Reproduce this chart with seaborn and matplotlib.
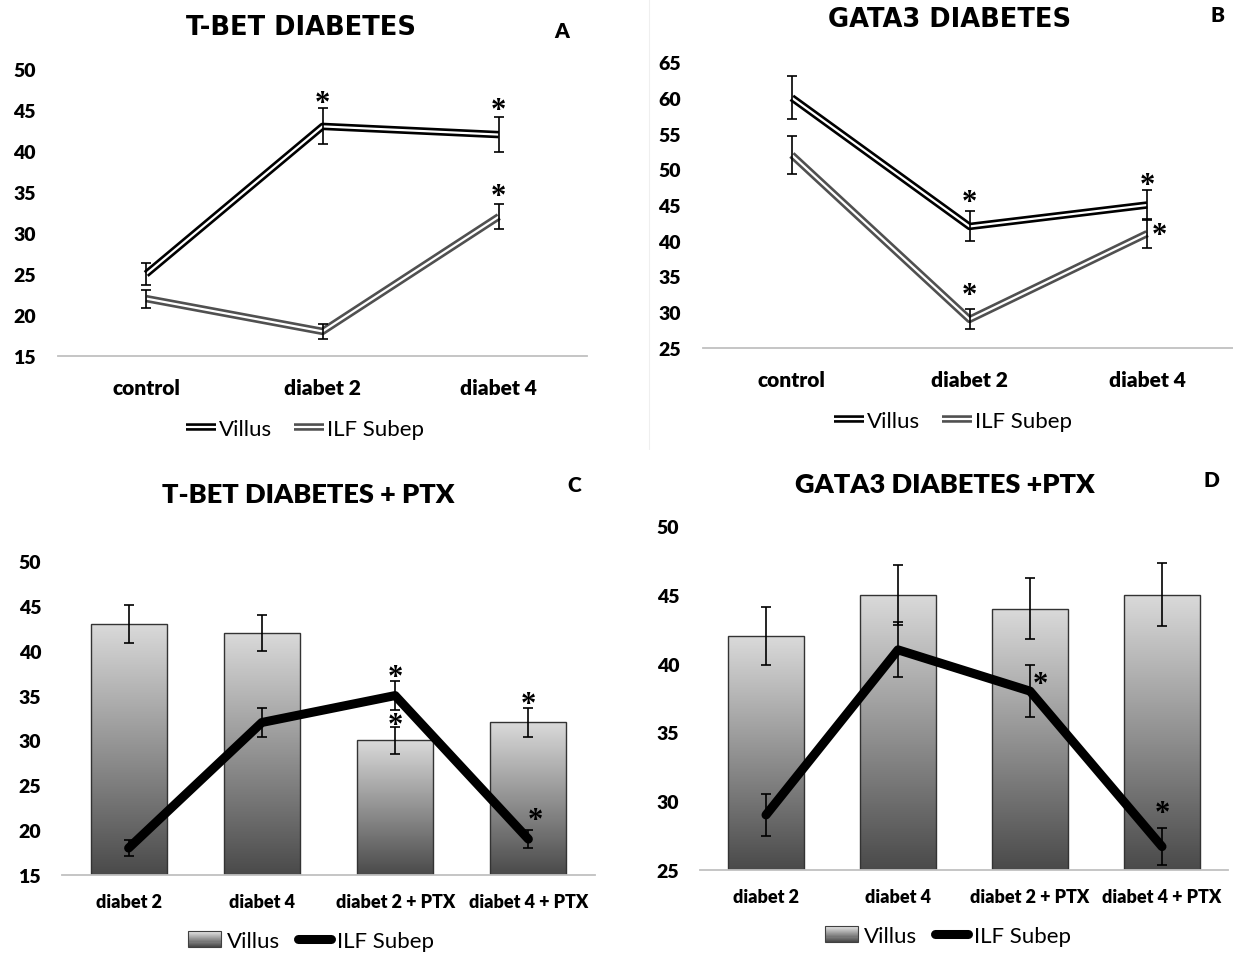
import numpy as np
import seaborn as sns
import matplotlib.pyplot as plt
import matplotlib.patheffects as pe
from matplotlib.colors import LinearSegmentedColormap
from matplotlib.legend_handler import HandlerBase
from matplotlib.patches import Rectangle
from matplotlib.lines import Line2D

# ---- data ----
cats_ab = ['control', 'diabet 2', 'diabet 4']
tbet_villus = [25, 43, 42]
tbet_villus_err = [1.3, 2.2, 2.1]
tbet_ilf = [22, 18, 32]
tbet_ilf_err = [1.1, 0.9, 1.5]
tbet_stars = [(1, 46.7), (2, 45.8), (2, 35.3)]

gata_villus = [60, 42, 45]
gata_villus_err = [3.0, 2.1, 2.1]
gata_ilf = [52, 29, 41]
gata_ilf_err = [2.6, 1.4, 2.0]
gata_stars = [(1, 46.4), (1, 33.4), (2, 48.7), (2.07, 41.7)]

cats_cd = ['diabet 2', 'diabet 4', 'diabet 2 + PTX', 'diabet 4 + PTX']
tbet_ptx_villus = [43, 42, 30, 32]
tbet_ptx_villus_err = [2.1, 2.0, 1.5, 1.6]
tbet_ptx_ilf = [18, 32, 35, 19]
tbet_ptx_ilf_err = [0.9, 1.6, 1.6, 1.0]
tbet_ptx_stars = [(2, 37.8), (2, 32.5), (3, 34.8), (3.05, 21.9)]

gata_ptx_villus = [42, 45, 44, 45]
gata_ptx_villus_err = [2.1, 2.2, 2.2, 2.3]
gata_ptx_ilf = [29, 41, 38, 26.7]
gata_ptx_ilf_err = [1.5, 2.0, 1.9, 1.35]
gata_ptx_stars = [(2.08, 39.0), (3, 29.6)]

sns.set_theme(style='white')
plt.rcParams['font.family'] = ['Lato', 'DejaVu Sans']
for key in ['text.color', 'axes.labelcolor', 'xtick.color', 'ytick.color']:
    plt.rcParams[key] = 'black'

W, H = 1233, 954
fig = plt.figure(figsize=(W / 100, H / 100), dpi=100)
bar_cmap = LinearSegmentedColormap.from_list('bargrad', ['#4a4a4a', '#dadada'])
HEAVY = 'heavy'


def px_axes(left, right, top, bottom):
    return fig.add_axes([left / W, 1 - bottom / H, (right - left) / W, (bottom - top) / H])


class GradientHandler(HandlerBase):
    def create_artists(self, legend, orig_handle, xdescent, ydescent, width, height, fontsize, trans):
        arts = []
        n = 14
        x0, y0 = -xdescent, -ydescent
        for i in range(n):
            arts.append(Rectangle((x0, y0 + height * i / n), width, height / n + 0.3,
                                  facecolor=bar_cmap(i / (n - 1)), edgecolor='none', transform=trans))
        arts.append(Rectangle((x0, y0), width, height, facecolor='none', edgecolor='#404040',
                              linewidth=0.8, transform=trans))
        return arts


def style_axis(ax, ylim, step, cats, ypad, xsize, xpad):
    sns.despine(ax=ax, left=True)
    ax.spines['bottom'].set_color('#c0c0c0')
    ax.spines['bottom'].set_linewidth(1.3)
    ax.set_ylim(*ylim)
    ax.set_xlim(-0.5, len(cats) - 0.5)
    ax.set_yticks(np.arange(ylim[0], ylim[1] + 1, step))
    ax.set_xticks(np.arange(len(cats)), cats)
    ax.tick_params(axis='y', length=0, pad=ypad, labelsize=14)
    ax.tick_params(axis='x', length=0, pad=xpad, labelsize=xsize)
    plt.setp(ax.get_xticklabels() + ax.get_yticklabels(), fontweight=HEAVY, color='black')
    ax.set_xlabel('')
    ax.set_ylabel('')
    ax.grid(False)


def add_stars(ax, stars):
    for sx, sy in stars:
        ax.annotate('*', xy=(sx, sy), xytext=(0, -10.5), textcoords='offset points',
                    ha='center', va='baseline', fontsize=22, fontweight='bold',
                    family='Liberation Serif', color='black', zorder=6)


def line_panel(ax, villus, villus_err, ilf, ilf_err, stars, ylim):
    x = np.arange(len(cats_ab))
    sns.lineplot(x=x, y=villus, ax=ax, color='white', linewidth=1.6, label='Villus',
                 solid_capstyle='butt',
                 path_effects=[pe.Stroke(linewidth=5.4, foreground='black'), pe.Normal()])
    sns.lineplot(x=x, y=ilf, ax=ax, color='white', linewidth=1.6, label='ILF Subep',
                 solid_capstyle='butt',
                 path_effects=[pe.Stroke(linewidth=5.4, foreground='#505050'), pe.Normal()])
    for vals, errs in [(villus, villus_err), (ilf, ilf_err)]:
        ax.errorbar(x, vals, yerr=errs, fmt='none', ecolor='black', elinewidth=1.2,
                    capsize=3.5, capthick=1.2, zorder=4)
    add_stars(ax, stars)
    style_axis(ax, ylim, 5, cats_ab, 16, 15, 16)


def bar_panel(ax, villus, villus_err, ilf, ilf_err, stars, ylim):
    pos = np.arange(len(cats_cd))
    sns.barplot(x=cats_cd, y=villus, ax=ax, color='#999999', width=0.57, edgecolor='#333333',
                linewidth=1.0, errorbar=None, zorder=1)
    grad = np.linspace(0, 1, 256).reshape(-1, 1)
    for bar in list(ax.patches):
        bx, bw, top = bar.get_x(), bar.get_width(), bar.get_y() + bar.get_height()
        bar.set_facecolor('none')
        im = ax.imshow(grad, cmap=bar_cmap, origin='lower', aspect='auto', zorder=0.9,
                       extent=[bx, bx + bw, ylim[0], top])
        im.set_clip_path(bar)
    ax.errorbar(pos, villus, yerr=villus_err, fmt='none', ecolor='black', elinewidth=1.2,
                capsize=3.5, capthick=1.2, zorder=3)
    sns.lineplot(x=pos, y=ilf, ax=ax, color='black', linewidth=6.5, zorder=4,
                 solid_capstyle='round', solid_joinstyle='round')
    ax.errorbar(pos, ilf, yerr=ilf_err, fmt='none', ecolor='black', elinewidth=1.2,
                capsize=3.5, capthick=1.2, zorder=5)
    add_stars(ax, stars)
    style_axis(ax, ylim, 5, cats_cd, 15, 13, 13)


def put_legend(ax, cx, cy, handles=None, labels=None, handler_map=None, hl=1.35, pad=0.12, colsp=1.0):
    if handles is None:
        handles, labels = ax.get_legend_handles_labels()
    ax.legend(handles, labels, loc='center', bbox_to_anchor=(cx / W, 1 - cy / H),
              bbox_transform=fig.transFigure, ncol=2, frameon=False, fontsize=16,
              handlelength=hl, handletextpad=pad, columnspacing=colsp, handler_map=handler_map)


# ---- panel A ----
axA = px_axes(58, 587, 70, 357)
line_panel(axA, tbet_villus, tbet_villus_err, tbet_ilf, tbet_ilf_err, tbet_stars, (15, 50))
put_legend(axA, 305, 430)

# ---- panel B ----
axB = px_axes(703, 1236, 63, 349)
line_panel(axB, gata_villus, gata_villus_err, gata_ilf, gata_ilf_err, gata_stars, (25, 65))
put_legend(axB, 953, 422)

# ---- panel C ----
bar_handles = [Rectangle((0, 0), 1, 1),
               Line2D([], [], color='black', linewidth=6.5, solid_capstyle='round')]
bar_labels = ['Villus', 'ILF Subep']
axC = px_axes(62, 595, 562, 876)
bar_panel(axC, tbet_ptx_villus, tbet_ptx_villus_err, tbet_ptx_ilf, tbet_ptx_ilf_err, tbet_ptx_stars, (15, 50))
put_legend(axC, 311, 942, bar_handles, bar_labels, {Rectangle: GradientHandler()}, hl=1.5, pad=0.25, colsp=0.8)

# ---- panel D ----
axD = px_axes(700, 1228, 527, 871)
bar_panel(axD, gata_ptx_villus, gata_ptx_villus_err, gata_ptx_ilf, gata_ptx_ilf_err, gata_ptx_stars, (25, 50))
put_legend(axD, 948, 937, bar_handles, bar_labels, {Rectangle: GradientHandler()}, hl=1.5, pad=0.25, colsp=0.8)

# ---- titles and panel letters ----
for txt, x, y, size, fam in [('T-BET DIABETES', 301, 28, 18.5, 'DejaVu Sans'),
                             ('GATA3 DIABETES', 950, 20, 18.5, 'DejaVu Sans'),
                             ('T-BET DIABETES + PTX', 308, 495, 19.5, 'Lato'),
                             ('GATA3 DIABETES +PTX', 945, 485, 19.5, 'Lato')]:
    fig.text(x / W, 1 - y / H, txt, ha='center', va='center', fontsize=size,
             fontweight=HEAVY if fam == 'Lato' else 'bold', family=fam)
for txt, x, y in [('A', 562, 32), ('B', 1217, 16), ('C', 574, 485), ('D', 1211, 481)]:
    fig.text(x / W, 1 - y / H, txt, ha='center', va='center', fontsize=15, fontweight=HEAVY)

# faint border line left of panel B
fig.add_artist(Line2D([649 / W, 649 / W], [1, 1 - 450 / H], color='#efefef', linewidth=0.8))

fig.savefig('out.png', dpi=100)
